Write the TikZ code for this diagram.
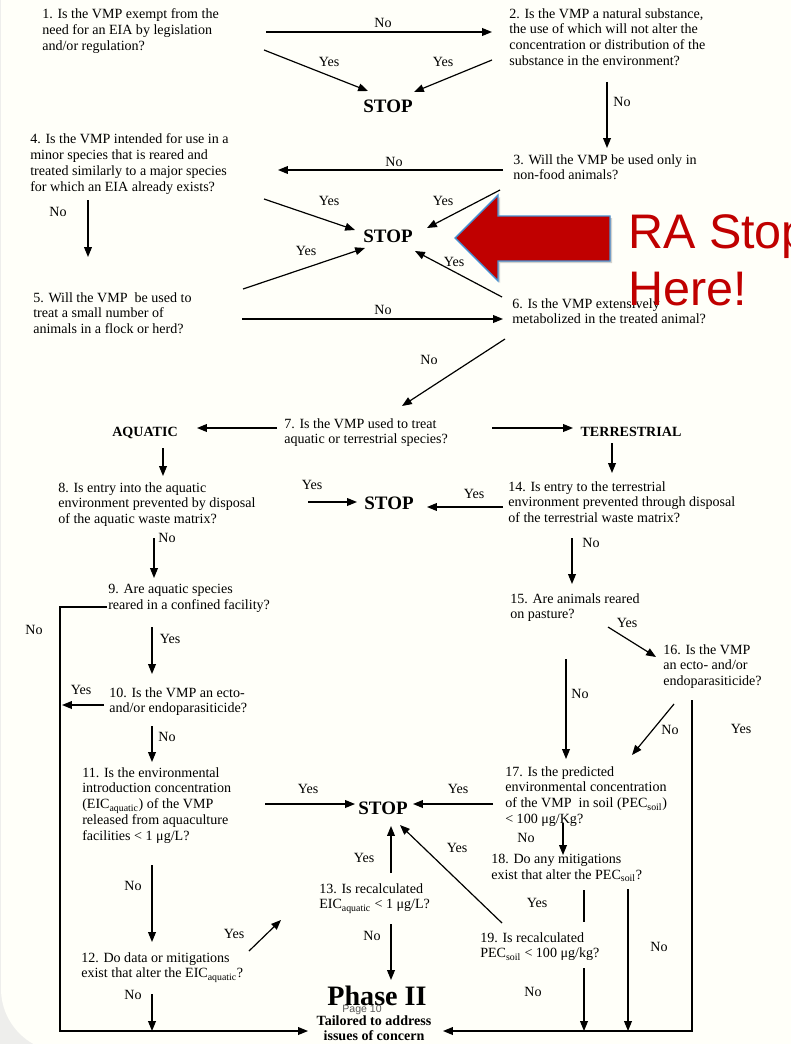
\documentclass[tikz,border=0pt]{standalone}
\usepackage{fontspec}
\setmainfont{Liberation Serif}
\newfontfamily\rafont{Liberation Sans}
\usepackage{tikz}
\usetikzlibrary{calc,arrows.meta,shadows}
\definecolor{paper}{RGB}{255,255,249}
\definecolor{pagegray}{RGB}{238,238,236}
\definecolor{rared}{RGB}{192,0,0}
\definecolor{rablue}{RGB}{70,145,210}
\tikzset{quest/.style={font=\fontsize{10}{11.34}\selectfont,align=left,anchor=north west,inner sep=0pt},
        lbl/.style={font=\fontsize{10}{11.34}\selectfont,inner sep=0pt,text height=6.6pt,text depth=0pt},
        stopnode/.style={font=\bfseries\fontsize{13.5}{16}\selectfont,anchor=base,inner sep=0pt},
        head/.style={font=\bfseries\fontsize{10}{11.34}\selectfont,anchor=base,inner sep=0pt}}
\tikzstyle{arrow} = [line width=0.85pt,-{Triangle[length=7pt,width=5.5pt]}]
\tikzstyle{wire}  = [line width=0.85pt]
\newcommand{\aqsub}{\textsubscript{aquatic}}
\newcommand{\soilsub}{\textsubscript{soil}}

\begin{document}
\begin{tikzpicture}[x=0.025cm,y=-0.025cm]
\useasboundingbox (0,0) rectangle (790,1044);
\fill[pagegray] (0,0) rectangle (790,1044);
\fill[paper,rounded corners=45] (1,-60) rectangle (860,1052);

\node[quest] (Q1) at (42,8) {1. Is the VMP exempt from the\\need for an EIA by legislation\\and/or regulation?};
\node[quest] (Q2) at (509,8) {2. Is the VMP a natural substance,\\the use of which will not alter the\\concentration or distribution of the\\substance in the environment?};
\node[quest] (Q3) at (513,154) {3. Will the VMP be used only in\\non-food animals?};
\node[quest] (Q4) at (30,133) {4. Is the VMP intended for use in a\\minor species that is reared and\\treated similarly to a major species\\for which an EIA already exists?};
\node[quest] (Q5) at (33,292) {5. Will the VMP\ \ be used to\\treat a small number of\\animals in a flock or herd?};
\node[quest] (Q6) at (512,298) {6. Is the VMP extensively\\metabolized in the treated animal?};
\node[quest] (Q7) at (284,418) {7. Is the VMP used to treat\\aquatic or terrestrial species?};
\node[quest] (Q8) at (58,482) {8. Is entry into the aquatic\\environment prevented by disposal\\of the aquatic waste matrix?};
\node[quest] (Q9) at (108,584) {9. Are aquatic species\\reared in a confined facility?};
\node[quest] (Q10) at (109,687) {10. Is the VMP an ecto-\\and/or endoparasiticide?};
\node[quest] (Q11) at (82,767) {11. Is the environmental\\introduction concentration\\(EIC\aqsub) of the VMP\\released from aquaculture\\facilities < 1 μg/L?};
\node[quest] (Q12) at (81,952) {12. Do data or mitigations\\exist that alter the EIC\aqsub?};
\node[quest] (Q13) at (319,883) {13. Is recalculated\\EIC\aqsub{} < 1 μg/L?};
\node[quest] (Q14) at (508,481) {14. Is entry to the terrestrial\\environment prevented through disposal\\of the terrestrial waste matrix?};
\node[quest] (Q15) at (510,593) {15. Are animals reared\\on pasture?};
\node[quest] (Q16) at (663,644) {16. Is the VMP\\an ecto- and/or\\endoparasiticide?};
\node[quest] (Q17) at (505,766) {17. Is the predicted\\environmental concentration\\of the VMP\ \ in soil (PEC\soilsub)\\< 100 μg/Kg?};
\node[quest] (Q18) at (491,854) {18. Do any mitigations\\exist that alter the PEC\soilsub?};
\node[quest] (Q19) at (480,932) {19. Is recalculated\\PEC\soilsub{} < 100 μg/kg?};

\node[stopnode] (S1) at (388,113) {STOP};
\node[stopnode] (S2) at (388,242) {STOP};
\node[stopnode] (S3) at (389,509) {STOP};
\node[stopnode] (S4) at (383,814) {STOP};
\node[head] (AQ) at (145,436) {AQUATIC};
\node[head] (TE) at (631,436) {TERRESTRIAL};
\node[font=\bfseries\fontsize{20}{24}\selectfont,anchor=base,inner sep=0pt] (P2) at (377,1005) {Phase II};
\node[font=\bfseries\fontsize{10}{11.34}\selectfont,align=center,anchor=north,inner sep=0pt] (TA) at (374,1015) {Tailored to address\\issues of concern};
\node[font=\rafont\fontsize{7.5}{9}\selectfont,text=black!65,anchor=base,inner sep=0pt] (PG) at (362,1012) {Page 10};

\node[lbl] (L1) at (383,23) {No};
\node[lbl] (L2) at (329,62) {Yes};
\node[lbl] (L3) at (443,62) {Yes};
\node[lbl] (L4) at (622,102) {No};
\node[lbl] (L5) at (394,162) {No};
\node[lbl] (L6) at (443,201) {Yes};
\node[lbl] (L7) at (329,201) {Yes};
\node[lbl] (L8) at (58,212) {No};
\node[lbl] (L9) at (306,251) {Yes};
\node[lbl] (L10) at (454,262) {Yes};
\node[lbl] (L11) at (383,310) {No};
\node[lbl] (L12) at (429,360) {No};
\node[lbl] (L13) at (312,485) {Yes};
\node[lbl] (L14) at (474,494) {Yes};
\node[lbl] (L15) at (167,538) {No};
\node[lbl] (L16) at (591,543) {No};
\node[lbl] (L17) at (34,630) {No};
\node[lbl] (L18) at (170,639) {Yes};
\node[lbl] (L19) at (81,690) {Yes};
\node[lbl] (L20) at (167,737) {No};
\node[lbl] (L21) at (308,789) {Yes};
\node[lbl] (L22) at (133,886) {No};
\node[lbl] (L23) at (234,934) {Yes};
\node[lbl] (L24) at (133,995) {No};
\node[lbl] (L25) at (364,858) {Yes};
\node[lbl] (L26) at (372,936) {No};
\node[lbl] (L27) at (627,623) {Yes};
\node[lbl] (L28) at (580,694) {No};
\node[lbl] (L29) at (670,730) {No};
\node[lbl] (L30) at (741,729) {Yes};
\node[lbl] (L31) at (458,789) {Yes};
\node[lbl] (L32) at (526,838) {No};
\node[lbl] (L33) at (537,903) {Yes};
\node[lbl] (L34) at (457,848) {Yes};
\node[lbl] (L35) at (533,992) {No};
\node[lbl] (L36) at (659,947) {No};

\draw[arrow] ($(Q1.north west)+(224,24)$) -- ($(Q2.north west)+(-17,24)$);
\draw[arrow] ($(Q1.north west)+(222,42)$) -- ($(S1.base)+(-20,-22)$);
\draw[arrow] ($(Q2.north west)+(-17,52)$) -- ($(S1.base)+(26,-21)$);
\draw[arrow] ($(Q2.north west)+(98,74)$) -- ($(Q3.north west)+(94,-6)$);
\draw[arrow] ($(Q3.north west)+(-10,16)$) -- ($(Q4.north west)+(248,37)$);
\draw[arrow] ($(Q3.north west)+(-13,36)$) -- ($(S2.base)+(39,-14)$);
\draw[arrow] ($(Q4.north west)+(234,66)$) -- ($(S2.base)+(-33,-12)$);
\draw[arrow] ($(Q4.north west)+(58,67)$) -- ($(Q5.north west)+(55,-35)$);
\draw[arrow] ($(Q5.north west)+(210,-3)$) -- ($(S2.base)+(-23,6)$);
\draw[arrow] ($(Q6.north west)+(-10,-1)$) -- ($(S2.base)+(27,9)$);
\draw[arrow] ($(Q5.north west)+(209,27)$) -- ($(Q6.north west)+(-9,21)$);
\draw[arrow] ($(Q6.north west)+(-7,41)$) -- ($(Q7.north west)+(118,-12)$);
\draw[arrow] ($(Q7.north west)+(-7,10)$) -- ($(AQ.base)+(52,-8)$);
\draw[arrow] ($(Q7.north west)+(208,10)$) -- ($(TE.base)+(-58,-8)$);
\draw[arrow] ($(AQ.base)+(18,12)$) -- ($(Q8.north west)+(105,-6)$);
\draw[arrow] ($(TE.base)+(-19,7)$) -- ($(Q14.north west)+(104,-8)$);
\draw[arrow] ($(Q8.north west)+(250,20)$) -- ($(S3.base)+(-32,-7)$);
\draw[arrow] ($(Q14.north west)+(-5,26)$) -- ($(S3.base)+(38,-2)$);
\draw[arrow] ($(Q8.north west)+(96,56)$) -- ($(Q9.north west)+(46,-6)$);
\draw[arrow] ($(Q14.north west)+(64,57)$) -- ($(Q15.north west)+(62,-9)$);
\draw[arrow] ($(Q9.north west)+(-1,23)$) -- ++(-47,0) |- ($(TA.north)+(-66,16)$);
\draw[arrow] ($(Q9.north west)+(44,43)$) -- ($(Q10.north west)+(43,-13)$);
\draw[arrow] ($(Q10.north west)+(-5,18)$) -- ++(-42,0);
\draw[arrow] ($(Q10.north west)+(43,39)$) -- ($(Q11.north west)+(70,-5)$);
\draw[arrow] ($(Q11.north west)+(183,37)$) -- ($(S4.base)+(-28,-10)$);
\draw[arrow] ($(Q11.north west)+(70,98)$) -- ($(Q12.north west)+(71,-10)$);
\draw[arrow] ($(Q12.north west)+(168,-1)$) -- ($(Q13.north west)+(-38,37)$);
\draw[arrow] ($(Q12.north west)+(71,42)$) -- ++(0,37);
\draw[arrow] ($(Q13.north west)+(72,-10)$) -- ($(S4.base)+(8,12)$);
\draw[arrow] ($(Q13.north west)+(72,41)$) -- ($(P2.base)+(14,-25)$);
\draw[arrow] ($(Q15.north west)+(98,34)$) -- ($(Q16.north west)+(-7,13)$);
\draw[arrow] ($(Q15.north west)+(56,66)$) -- ($(Q17.north west)+(61,-7)$);
\draw[arrow] ($(Q16.north west)+(11,60)$) -- ($(Q17.north west)+(127,-11)$);
\draw[arrow] ($(Q16.north west)+(29,56)$) |- ($(TA.north)+(69,16)$);
\draw[arrow] ($(Q17.north west)+(-12,38)$) -- ($(S4.base)+(30,-10)$);
\draw[arrow] ($(Q17.north west)+(58,57)$) -- ($(Q18.north west)+(72,1)$);
\draw[wire] ($(Q18.north west)+(93,36)$) -- ($(Q19.north west)+(104,-10)$);
\draw[arrow] ($(Q19.north west)+(22,-9)$) -- ($(S4.base)+(17,11)$);
\draw[arrow] ($(Q19.north west)+(104,36)$) -- ++(0,63);
\draw[arrow] ($(Q18.north west)+(137,35)$) -- ++(0,142);

\filldraw[fill=rared,draw=rablue,line width=1pt,drop shadow={shadow xshift=1.5pt,shadow yshift=-1.5pt,opacity=0.35}] (455,238) -- (498,195) -- (498,216) -- (610,216) -- (610,261) -- (498,261) -- (498,281) -- cycle;
\node[font=\rafont\fontsize{34.5}{41.1}\selectfont,text=rared,align=left,anchor=north west,inner sep=0pt] (RA) at (628,214) {RA Stop\\Here!};
\end{tikzpicture}
\end{document}
